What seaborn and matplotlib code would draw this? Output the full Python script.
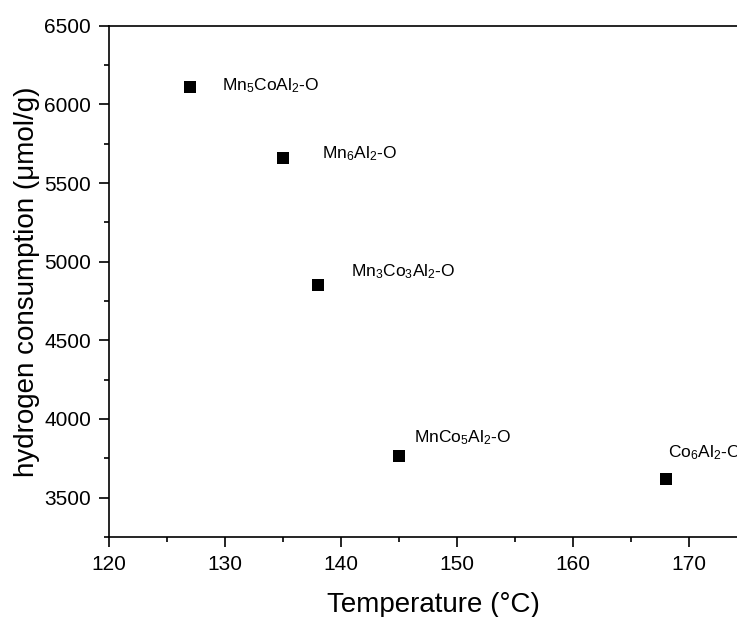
import matplotlib
matplotlib.use("Agg")
import matplotlib.pyplot as plt
import seaborn as sns
import pandas as pd
from matplotlib.ticker import MultipleLocator

sns.set_style("ticks")
plt.rcParams['font.family'] = ['Liberation Sans', 'DejaVu Sans']
plt.rcParams['mathtext.default'] = 'regular'
plt.rcParams['text.color'] = 'black'
plt.rcParams['axes.labelcolor'] = 'black'

samples = [r'Mn$_{5}$CoAl$_{2}$-O', r'Mn$_{6}$Al$_{2}$-O', r'Mn$_{3}$Co$_{3}$Al$_{2}$-O',
           r'MnCo$_{5}$Al$_{2}$-O', r'Co$_{6}$Al$_{2}$-O']
temperature = [127, 135, 138, 145, 168]
h2_consumption = [6110, 5660, 4850, 3765, 3620]
label_offsets = [(23, 1), (28, 3), (24, 10), (11, 13), (2, 19)]

df = pd.DataFrame({'T': temperature, 'H2': h2_consumption, 'name': samples})

fig = plt.figure(figsize=(7.37, 6.17), dpi=100)
ax = fig.add_axes([0.1483, 0.1297, 0.8808, 0.8286])
sns.scatterplot(data=df, x='T', y='H2', marker='s', s=64, color='black',
                edgecolor='black', linewidth=0, ax=ax, legend=False, zorder=3)

for name, x, y, off in zip(samples, temperature, h2_consumption, label_offsets):
    ax.annotate(name, (x, y), xytext=off, textcoords='offset points',
                fontsize=12.5, va='center', ha='left', color='black',
                annotation_clip=False)

ax.set_xlim(120, 176)
ax.set_ylim(3250, 6500)
ax.xaxis.set_major_locator(MultipleLocator(10))
ax.xaxis.set_minor_locator(MultipleLocator(5))
ax.yaxis.set_major_locator(MultipleLocator(500))
ax.yaxis.set_minor_locator(MultipleLocator(250))

for s in ['left', 'bottom', 'top', 'right']:
    ax.spines[s].set_linewidth(1.2)
    ax.spines[s].set_color('black')

ax.tick_params(which='major', direction='out', length=7, width=1.2, labelsize=15,
               pad=6, colors='black', top=False, right=False)
ax.tick_params(which='minor', direction='out', length=3.5, width=1.2,
               colors='black', top=False, right=False)

ax.set_xlabel('Temperature (°C)', fontsize=20, labelpad=13)
ax.set_ylabel('hydrogen consumption (μmol/g)', fontsize=20, labelpad=3)

fig.savefig('out.png', dpi=100)
